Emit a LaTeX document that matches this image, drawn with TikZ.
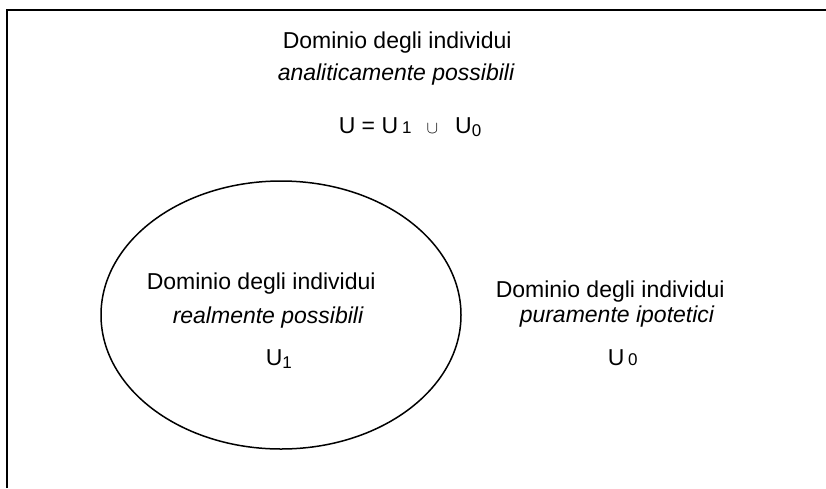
\documentclass[tikz,border=0pt]{standalone}
\usepackage{fontspec}
\setmainfont{Liberation Sans}
\usetikzlibrary{positioning}

\newcommand{\idx}[1]{{\fontsize{17}{17}\selectfont\raisebox{-3pt}{#1}}}
\newcommand{\idxb}[1]{{\fontsize{17}{17}\selectfont #1}}

\begin{document}
\begin{tikzpicture}[x=1pt, y=-1pt, line width=1.5pt,
                    font=\fontsize{23}{28}\selectfont,
                    lbl/.style={inner sep=0pt, anchor=base west}]
    \useasboundingbox (0,0) rectangle (826,488);
    % cornice
    \draw [line width=2pt] (6.5,488) -- (6.5,10) -- (826,10);
    % insieme U_1
    \draw (281,315) ellipse [x radius=180pt, y radius=134pt];
    % dominio U
    \node [lbl] (domU) at (282,48) {Dominio degli individui};
    \node [lbl] (analU) at (277,80) {\itshape analiticamente possibili};
    \node [lbl] (unione) at (338,133) {U = U\hspace{4pt}\idxb{1}\hspace{15pt}{\fontsize{17}{17}\selectfont$\cup$}\hspace{17pt}U\idx{0}};
    % dominio U_1
    \node [lbl] (domUa) at (146,289) {Dominio degli individui};
    \node [lbl] (realUa) at (172,323) {\itshape realmente possibili};
    \node [lbl] (Ua) at (265,365) {U\idx{1}};
    % dominio U_0
    \node [lbl] (domUb) at (495,297) {Dominio degli individui};
    \node [lbl] (ipUb) at (519,322) {\itshape puramente ipotetici};
    \node [lbl] (Ub) at (607,365) {U\,\idxb{0}};
\end{tikzpicture}
\end{document}
